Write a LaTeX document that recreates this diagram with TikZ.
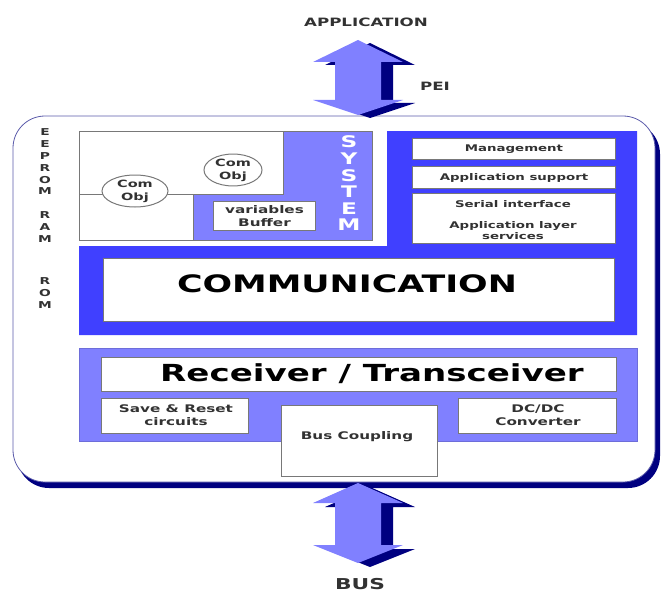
\documentclass[tikz,border=0pt]{standalone}
\usepackage{fontspec}
\newfontfamily\vb{DejaVu Sans}[FakeStretch=1.45]
\usetikzlibrary{shapes.geometric}
\definecolor{navy}{RGB}{0,0,128}
\definecolor{bblue}{RGB}{64,64,255}
\definecolor{lblue}{RGB}{128,128,255}
\definecolor{bgray}{RGB}{120,120,120}
\definecolor{tgray}{RGB}{50,50,50}
\definecolor{oline}{RGB}{90,90,170}
\tikzset{
  wbox/.style={draw=bgray, fill=white, line width=1pt, inner sep=0pt, anchor=north west},
  small/.style={font=\vb\bfseries\fontsize{9.2}{11}\selectfont, text=tgray, align=center, inner sep=0pt},
  mid/.style={font=\vb\bfseries\fontsize{10.5}{13}\selectfont, text=tgray, align=center, inner sep=0pt},
  big/.style={font=\vb\bfseries\fontsize{24}{26}\selectfont, text=black, inner sep=0pt},
  vert/.style={font=\vb\bfseries\fontsize{9.5}{11.8}\selectfont, text=tgray, align=center, inner sep=0pt},
  comobj/.style={ellipse, draw=bgray, fill=white, line width=1pt, inner sep=0pt,
     font=\vb\bfseries\fontsize{10}{13}\selectfont, text=tgray, align=center},
  arrlight/.style={fill=lblue},
  arrdark/.style={fill=navy},
}
\begin{document}
\begin{tikzpicture}[x=1pt,y=-1pt]
\useasboundingbox (0,0) rectangle (662,594);

% outer box with shadow
\fill[navy, rounded corners=32] (17,122) rectangle (660,488);
\draw[oline, fill=white, line width=0.8pt, rounded corners=32] (13,116) rectangle (655,482);

% top arrow
\fill[arrdark, shift={(12,3)}] (358,40) -- (403,62) -- (381,62) -- (381,100) -- (403,100) -- (358,115)
   -- (313,100) -- (335,100) -- (335,62) -- (313,62) -- cycle;
\fill[arrlight] (358,40) -- (403,62) -- (381,62) -- (381,100) -- (403,100) -- (358,115)
   -- (313,100) -- (335,100) -- (335,62) -- (313,62) -- cycle;

% bottom arrow
\fill[arrdark, shift={(12,4)}] (358,483) -- (403,503) -- (381,503) -- (381,545) -- (403,545) -- (358,563)
   -- (313,545) -- (335,545) -- (335,503) -- (313,503) -- cycle;
\fill[arrlight] (358,483) -- (403,503) -- (381,503) -- (381,545) -- (403,545) -- (358,563)
   -- (313,545) -- (335,545) -- (335,503) -- (313,503) -- cycle;

\node[font=\vb\bfseries\fontsize{11.5}{13}\selectfont, text=tgray, inner sep=0pt] (app) at (366,22) {APPLICATION};
\node[font=\vb\bfseries\fontsize{11.5}{13}\selectfont, text=tgray, inner sep=0pt] (pei) at (435,86) {PEI};
\node[font=\vb\bfseries\fontsize{15}{17}\selectfont, text=tgray, inner sep=0pt] (bus) at (360,584) {BUS};

% memory letters
\node[vert] (eeprom) at (45,162) {E\\E\\P\\R\\O\\M};
\node[vert] (ram) at (45,227) {R\\A\\M};
\node[vert] (rom) at (45,293) {R\\O\\M};

% system area
\draw[bgray, fill=white, line width=1pt] (79,131) rectangle (372,240);
\draw[bgray, fill=lblue, line width=1pt] (283,131) -- (372,131) -- (372,240) -- (193,240) -- (193,194) -- (283,194) -- cycle;
\draw[bgray, line width=1pt] (79,194) -- (193,194);
\node[comobj, minimum width=66, minimum height=32] (co1) at (135,191) {Com\\Obj};
\node[comobj, minimum width=58, minimum height=30] (co2) at (233,170) {Com\\Obj};
\node[wbox, minimum width=102, minimum height=29, font=\vb\bfseries\fontsize{10.5}{13}\selectfont, text=tgray, align=center] (varbuf) at (213,201) {variables\\Buffer};
\node[font=\vb\bfseries\fontsize{16}{16.6}\selectfont, text=white, align=center, inner sep=0pt] (system) at (349,183.5) {S\\Y\\S\\T\\E\\M};

% communication frame
\fill[bblue] (387,131) -- (637,131) -- (637,335) -- (79,335) -- (79,246) -- (387,246) -- cycle;
\node[wbox, minimum width=203, minimum height=21, small] (mgmt) at (412,138) {Management};
\node[wbox, minimum width=203, minimum height=22, small] (appsup) at (412,166) {Application support};
\node[wbox, minimum width=203, minimum height=50] (serialbox) at (412,193) {};
\node[small] (serial) at (513,204) {Serial interface};
\node[small] (appl) at (513,230.5) {Application layer\\services};
\node[wbox, minimum width=511, minimum height=63] (commbox) at (103,258) {};
\node[big] (comm) at (347,284) {COMMUNICATION};

% receiver frame
\draw[lblue!85!black, fill=lblue, line width=0.6pt] (79,348) rectangle (637,441);
\node[wbox, minimum width=515, minimum height=34] (recvbox) at (101,357) {};
\node[big, font=\vb\bfseries\fontsize{23.5}{26}\selectfont] (recv) at (372,374) {Receiver / Transceiver};
\node[wbox, minimum width=147, minimum height=35] (savebox) at (101,398) {};
\node[mid] (save) at (176,415) {Save \& Reset\\circuits};
\node[wbox, minimum width=158, minimum height=35] (dcbox) at (458,398) {};
\node[mid] (dc) at (538,415) {DC/DC\\Converter};
\node[wbox, minimum width=156, minimum height=71] (buscbox) at (281,405) {};
\node[mid] (busc) at (357,437) {Bus Coupling};
\end{tikzpicture}
\end{document}
